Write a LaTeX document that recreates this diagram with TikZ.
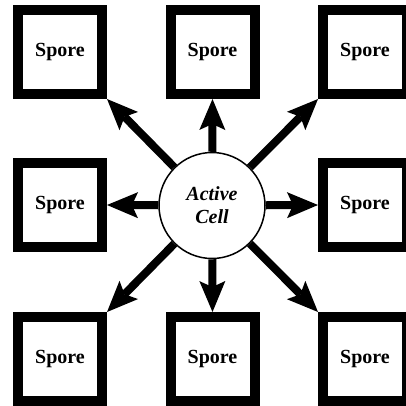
\documentclass[tikz,border=0pt]{standalone}
\usepackage{fontspec}
\setmainfont{Liberation Serif}
\usetikzlibrary{arrows.meta}
\begin{document}
\begin{tikzpicture}[x=1pt,y=-1pt,
  spore/.style={draw, line width=10pt, minimum size=84pt, inner sep=0pt,
    font=\bfseries\fontsize{20}{24}\selectfont, fill=white},
  cell/.style={draw, circle, line width=1.5pt, minimum size=106pt, inner sep=0pt,
    font=\bfseries\itshape\fontsize{20}{23}\selectfont, align=center},
  burst/.style={line width=8pt,
    -{Stealth[length=31pt, width=26pt, inset=6pt, line width=0pt]}}]
  \useasboundingbox (0,0) rectangle (406,405);
  \clip (0,0) rectangle (406,405);

  % central cell
  \node[cell] (c) at (212,205.5) {Active\\Cell};

  % surrounding spores
  \node[spore] (tl) at (60,52) {Spore};
  \node[spore] (tm) at (212.5,52) {Spore};
  \node[spore] (tr) at (365,52) {Spore};
  \node[spore] (ml) at (60,205) {Spore};
  \node[spore] (mr) at (365,205) {Spore};
  \node[spore] (bl) at (60,359) {Spore};
  \node[spore] (bm) at (212.5,359) {Spore};
  \node[spore] (br) at (365,359) {Spore};

  % arrows radiating from the cell
  \draw[burst] (c) -- (tl.south east);
  \draw[burst] (c) -- (tm.south);
  \draw[burst] (c) -- (tr.south west);
  \draw[burst] (c) -- (ml.east);
  \draw[burst] (c) -- (mr.west);
  \draw[burst] (c) -- (bl.north east);
  \draw[burst] (c) -- (bm.north);
  \draw[burst] (c) -- (br.north west);
\end{tikzpicture}
\end{document}
